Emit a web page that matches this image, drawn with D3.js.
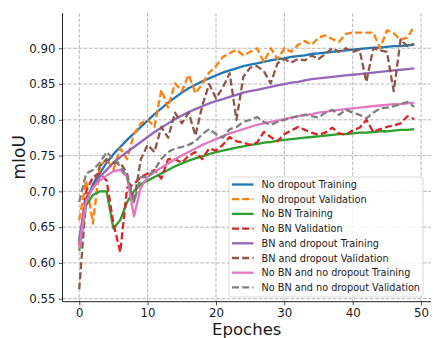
<!DOCTYPE html>
<html>
<head>
<meta charset="utf-8">
<script src="https://cdn.jsdelivr.net/npm/d3@7"></script>
<style>
  html, body { margin: 0; padding: 0; background: #fff; }
  svg { display: block; font-family: 'DejaVu Sans', sans-serif; }
</style>
</head>
<body>
<div id="chart"></div>
<script>
const epochs = d3.range(0, 50);

const xTicks = [0, 10, 20, 30, 40, 50];
const yTicks = [0.55, 0.6, 0.65, 0.7, 0.75, 0.8, 0.85, 0.9];

const seriesNames = [
  'No dropout Training',
  'No dropout Validation',
  'No BN Training',
  'No BN Validation',
  'BN and dropout Training',
  'BN and dropout Validation',
  'No BN and no dropout Training',
  'No BN and no dropout Validation',
];

const noDropoutTrain = [
  0.630, 0.685, 0.710, 0.725, 0.740, 0.752, 0.762, 0.772, 0.781, 0.790,
  0.799, 0.808, 0.816, 0.824, 0.831, 0.838, 0.844, 0.849, 0.854, 0.858,
  0.862, 0.866, 0.869, 0.872, 0.875, 0.877, 0.879, 0.881, 0.883, 0.885,
  0.886, 0.888, 0.889, 0.890, 0.892, 0.893, 0.894, 0.895, 0.896, 0.897,
  0.898, 0.899, 0.900, 0.901, 0.901, 0.902, 0.903, 0.903, 0.904, 0.905,
];
const noDropoutVal = [
  0.660, 0.715, 0.655, 0.735, 0.745, 0.730, 0.760, 0.745, 0.780, 0.795,
  0.800, 0.790, 0.842, 0.817, 0.851, 0.840, 0.863, 0.837, 0.850, 0.866,
  0.875, 0.888, 0.893, 0.898, 0.890, 0.895, 0.900, 0.881, 0.900, 0.885,
  0.900, 0.895, 0.905, 0.910, 0.905, 0.915, 0.918, 0.913, 0.909, 0.920,
  0.922, 0.922, 0.922, 0.922, 0.900, 0.925, 0.921, 0.912, 0.915, 0.931,
];
const noBnTrain = [
  0.617, 0.680, 0.695, 0.700, 0.700, 0.648, 0.660, 0.685, 0.700, 0.710,
  0.715, 0.720, 0.725, 0.730, 0.735, 0.739, 0.743, 0.746, 0.749, 0.752,
  0.755, 0.757, 0.759, 0.761, 0.763, 0.765, 0.766, 0.768, 0.769, 0.771,
  0.772, 0.773, 0.774, 0.775, 0.776, 0.777, 0.778, 0.779, 0.780, 0.780,
  0.781, 0.782, 0.782, 0.783, 0.784, 0.784, 0.785, 0.786, 0.786, 0.787,
];
const noBnVal = [
  0.625, 0.700, 0.720, 0.725, 0.715, 0.655, 0.615, 0.705, 0.710, 0.720,
  0.725, 0.730, 0.718, 0.745, 0.745, 0.740, 0.750, 0.755, 0.745, 0.760,
  0.757, 0.765, 0.776, 0.770, 0.768, 0.765, 0.768, 0.783, 0.776, 0.770,
  0.780, 0.785, 0.790, 0.786, 0.782, 0.779, 0.782, 0.789, 0.781, 0.779,
  0.785, 0.789, 0.800, 0.783, 0.787, 0.790, 0.792, 0.795, 0.805, 0.801,
];
const bnDropoutTrain = [
  0.635, 0.690, 0.705, 0.720, 0.730, 0.740, 0.748, 0.755, 0.762, 0.769,
  0.776, 0.783, 0.789, 0.795, 0.801, 0.806, 0.811, 0.815, 0.819, 0.823,
  0.826, 0.829, 0.832, 0.835, 0.838, 0.840, 0.842, 0.844, 0.846, 0.848,
  0.850, 0.852, 0.853, 0.855, 0.857, 0.858, 0.859, 0.860, 0.861, 0.862,
  0.863, 0.864, 0.865, 0.866, 0.867, 0.868, 0.869, 0.870, 0.871, 0.872,
];
const bnDropoutVal = [
  0.563, 0.690, 0.705, 0.735, 0.745, 0.740, 0.740, 0.725, 0.685, 0.745,
  0.765, 0.755, 0.790, 0.775, 0.810, 0.795, 0.810, 0.778, 0.820, 0.850,
  0.830, 0.845, 0.865, 0.800, 0.860, 0.873, 0.875, 0.868, 0.851, 0.879,
  0.885, 0.880, 0.885, 0.883, 0.890, 0.885, 0.892, 0.900, 0.895, 0.900,
  0.895, 0.898, 0.853, 0.900, 0.897, 0.895, 0.840, 0.912, 0.903, 0.906,
];
const noBnNoDropoutTrain = [
  0.620, 0.685, 0.705, 0.715, 0.722, 0.728, 0.730, 0.720, 0.665, 0.705,
  0.720, 0.727, 0.733, 0.739, 0.745, 0.750, 0.755, 0.760, 0.765, 0.769,
  0.773, 0.777, 0.781, 0.784, 0.787, 0.790, 0.793, 0.795, 0.797, 0.799,
  0.801, 0.803, 0.805, 0.807, 0.808, 0.810, 0.811, 0.813, 0.814, 0.815,
  0.816, 0.817, 0.818, 0.819, 0.820, 0.821, 0.822, 0.822, 0.823, 0.824,
];
const noBnNoDropoutVal = [
  0.685, 0.725, 0.730, 0.740, 0.755, 0.745, 0.735, 0.720, 0.685, 0.720,
  0.720, 0.730, 0.745, 0.755, 0.760, 0.762, 0.765, 0.770, 0.780, 0.787,
  0.780, 0.775, 0.787, 0.790, 0.797, 0.800, 0.804, 0.797, 0.793, 0.797,
  0.800, 0.803, 0.805, 0.807, 0.805, 0.803, 0.810, 0.814, 0.807, 0.814,
  0.810, 0.807, 0.802, 0.810, 0.816, 0.817, 0.819, 0.822, 0.825, 0.818,
];

const seriesValues = [
  noDropoutTrain, noDropoutVal, noBnTrain, noBnVal,
  bnDropoutTrain, bnDropoutVal, noBnNoDropoutTrain, noBnNoDropoutVal,
];
const colors = ['#1f77b4', '#ff7f0e', '#2ca02c', '#d62728', '#9467bd', '#8c564b', '#e377c2', '#7f7f7f'];

const width = 433;
const height = 338;
const plot = { left: 62.5, right: 431, top: 13, bottom: 301.7 };

const svg = d3
  .select('#chart')
  .append('svg')
  .attr('width', width)
  .attr('height', height);

const x = d3.scaleLinear().domain([-2.45, 51.45]).range([plot.left, plot.right]);
const y = d3.scaleLinear().domain([0.5458, 0.9493]).range([plot.bottom, plot.top]);

// dashed grid
const grid = svg.append('g')
  .attr('stroke', '#b0b0b0')
  .attr('stroke-width', 0.9)
  .attr('stroke-dasharray', '3.7,1.6');
grid.selectAll('.gx')
  .data(xTicks)
  .join('line')
  .attr('x1', (d) => x(d)).attr('x2', (d) => x(d))
  .attr('y1', plot.top).attr('y2', plot.bottom);
grid.selectAll('.gy')
  .data(yTicks)
  .join('line')
  .attr('x1', plot.left).attr('x2', plot.right)
  .attr('y1', (d) => y(d)).attr('y2', (d) => y(d));

const line = d3.line()
  .x((d, i) => x(epochs[i]))
  .y((d) => y(d));

svg.append('g')
  .selectAll('path')
  .data(seriesValues)
  .join('path')
  .attr('fill', 'none')
  .attr('stroke', (d, i) => colors[i])
  .attr('stroke-width', 2.3)
  .attr('stroke-linejoin', 'round')
  .attr('stroke-dasharray', (d, i) => (i % 2 === 1 ? '7,3.2' : null))
  .attr('d', line);

// axes (left + bottom spines only)
const xAxis = svg.append('g')
  .attr('transform', `translate(0,${plot.bottom})`)
  .call(d3.axisBottom(x).tickValues(xTicks).tickSize(3.5).tickPadding(3).tickFormat(d3.format('d')));
const yAxis = svg.append('g')
  .attr('transform', `translate(${plot.left},0)`)
  .call(d3.axisLeft(y).tickValues(yTicks).tickSize(3.5).tickPadding(3.5).tickFormat(d3.format('.2f')));

[xAxis, yAxis].forEach((ax) => {
  ax.select('.domain').remove();
  ax.selectAll('text')
    .attr('fill', '#1a1a1a')
    .style('font-size', '11.8px')
    .style('font-family', "'DejaVu Sans', sans-serif");
  ax.selectAll('line').attr('stroke', '#222').attr('stroke-width', 0.8);
});

svg.append('line')
  .attr('x1', plot.left).attr('x2', plot.left)
  .attr('y1', plot.top).attr('y2', plot.bottom)
  .attr('stroke', '#222').attr('stroke-width', 1);
svg.append('line')
  .attr('x1', plot.left).attr('x2', plot.right)
  .attr('y1', plot.bottom).attr('y2', plot.bottom)
  .attr('stroke', '#222').attr('stroke-width', 1);

svg.append('text')
  .text('Epoches')
  .attr('x', (plot.left + plot.right) / 2)
  .attr('y', 334.5)
  .attr('text-anchor', 'middle')
  .attr('fill', '#1a1a1a')
  .style('font-size', '16.5px');

svg.append('text')
  .text('mIoU')
  .attr('transform', `translate(25,${(plot.top + plot.bottom) / 2}) rotate(-90)`)
  .attr('text-anchor', 'middle')
  .attr('fill', '#1a1a1a')
  .style('font-size', '17px');

// legend
const legend = svg.append('g').attr('transform', 'translate(229,177)');
legend.append('rect')
  .attr('width', 194)
  .attr('height', 120)
  .attr('rx', 2.5)
  .attr('fill', 'rgba(255,255,255,0.8)')
  .attr('stroke', '#d0d0d0')
  .attr('stroke-width', 0.8);

const rows = legend.selectAll('.row')
  .data(seriesNames)
  .join('g')
  .attr('class', 'row')
  .attr('transform', (d, i) => `translate(0,${7.5 + i * 14.7})`);
rows.append('line')
  .attr('x1', 3).attr('x2', 24.5)
  .attr('stroke', (d, i) => colors[i])
  .attr('stroke-width', 2.3)
  .attr('stroke-dasharray', (d, i) => (i % 2 === 1 ? '7,3.2' : null));
rows.append('text')
  .text((d) => d)
  .attr('x', 32.5)
  .attr('y', 3.5)
  .attr('fill', '#1a1a1a')
  .style('font-size', '9.7px');
</script>
</body>
</html>
